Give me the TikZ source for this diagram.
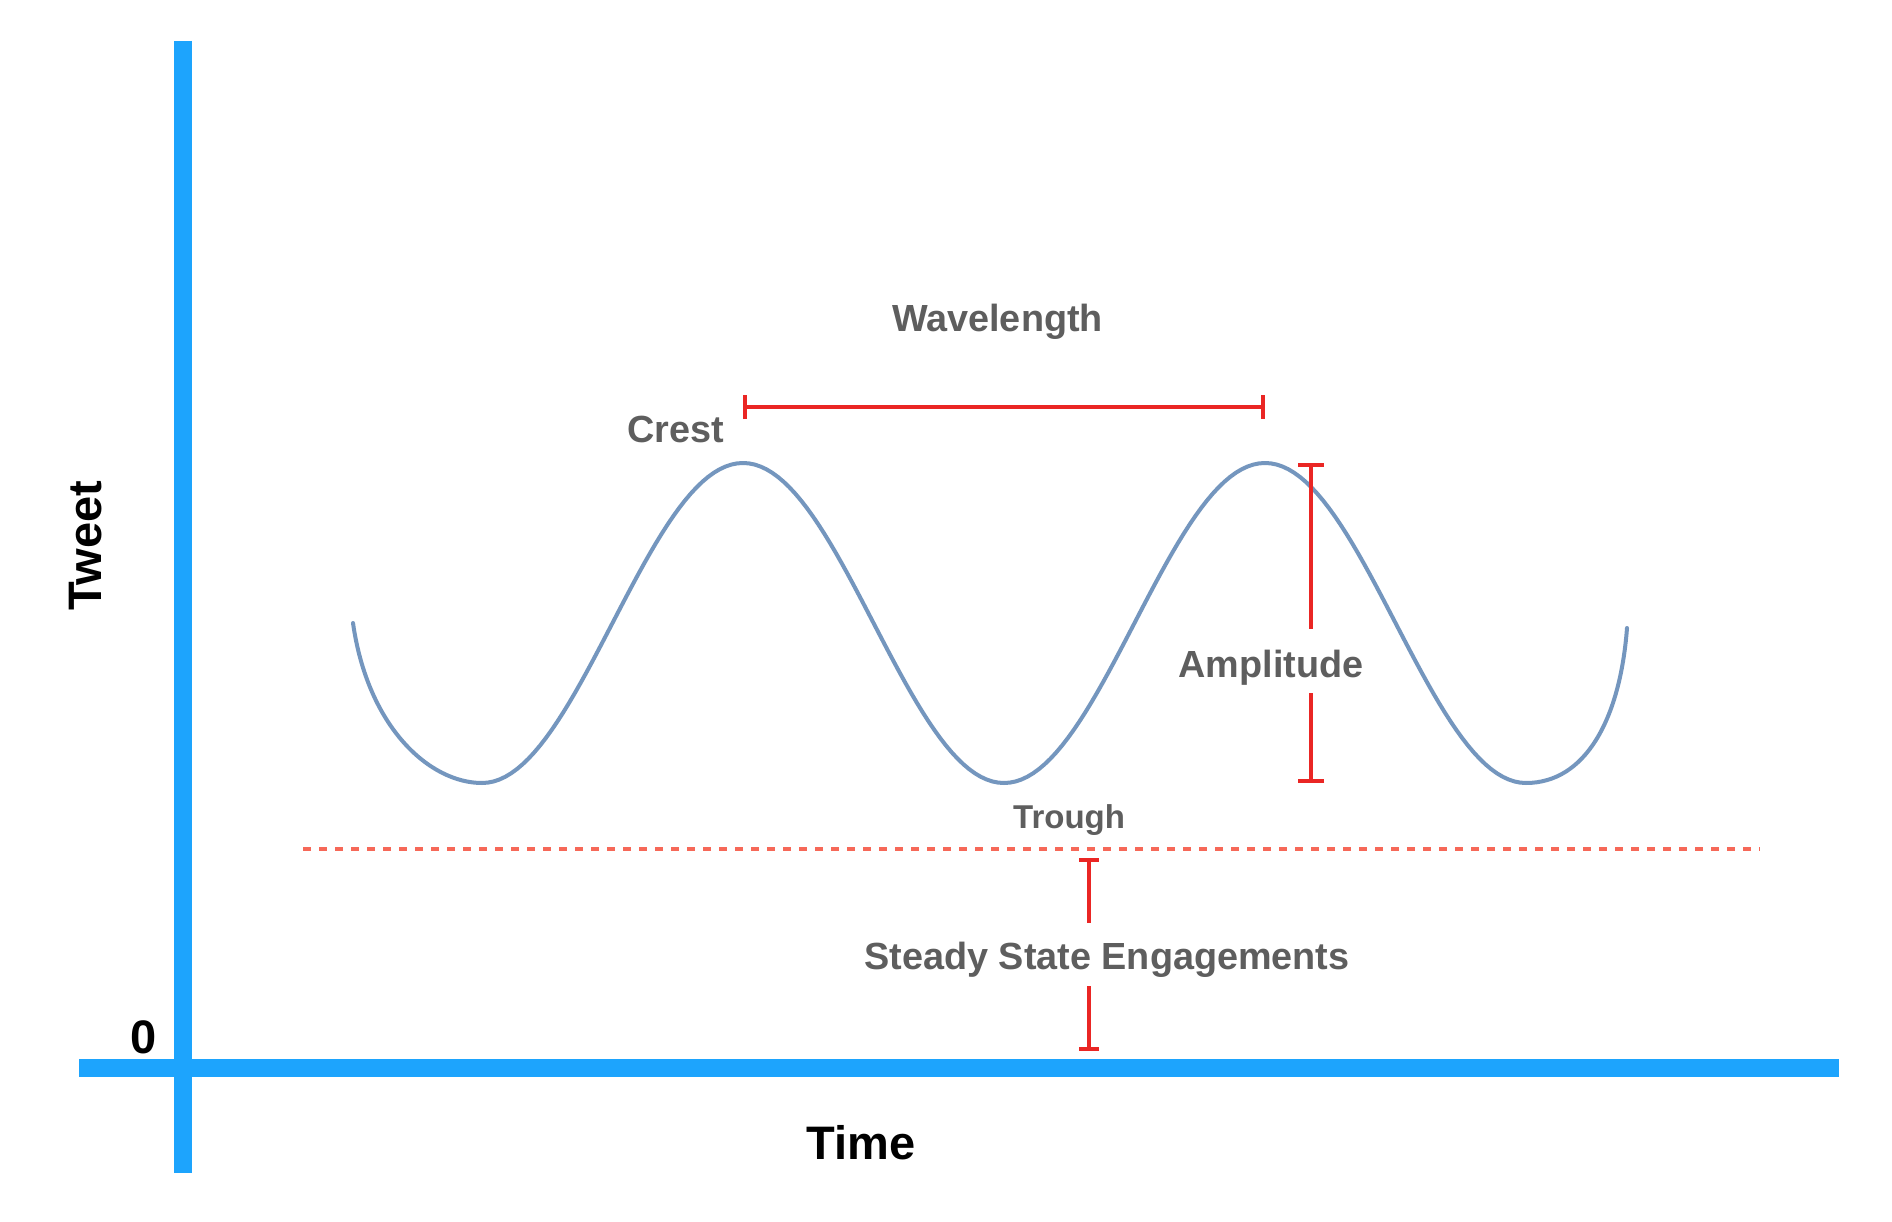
\documentclass[tikz,border=0pt]{standalone}
\usepackage{fontspec}
\setmainfont{Liberation Sans}
\usetikzlibrary{arrows.meta}
\definecolor{axisblue}{RGB}{29,164,253}
\definecolor{wavecol}{RGB}{116,150,190}
\definecolor{barred}{RGB}{234,38,36}
\definecolor{dashred}{RGB}{246,104,88}
\definecolor{labgray}{RGB}{94,94,94}
\tikzset{
  axisline/.style={line width=18pt, axisblue, line cap=butt},
  wavecurve/.style={line width=4pt, wavecol, line cap=round, line join=round},
  redbar/.style={line width=4.2pt, barred, line cap=butt},
  dashline/.style={line width=4pt, dashred, dash pattern=on 8pt off 8pt},
  graylab/.style={inner sep=0pt, text=labgray, font=\fontsize{37.8}{45}\selectfont\bfseries},
  blacklab/.style={inner sep=0pt, text=black, font=\fontsize{47}{56}\selectfont\bfseries}
}
\begin{document}
\begin{tikzpicture}[x=1pt,y=-1pt]
\useasboundingbox[fill=white] (0,0) rectangle (1892,1222);
% axes
\coordinate (yTop) at (183,41);
\coordinate (yBot) at (183,1173);
\coordinate (xL) at (79,1068);
\coordinate (xR) at (1839,1068);
\draw[axisline] (yTop) -- (yBot);
\draw[axisline] (xL) -- (xR);
% axis labels
\node[blacklab, anchor=base] (zero) at (143.5,1053) {0};
\node[blacklab, anchor=base] (time) at (861,1159) {Time};
\node[blacklab, rotate=90, anchor=center] (tweet) at (85.5,545.5) {Tweet};
% wave
\coordinate (wS) at (353,623);
\coordinate (wE) at (1627,628);
\draw[wavecurve] (wS) .. controls (368,728) and (430,783) .. (482,783)
  -- plot[domain=-180:540, samples=181] ({743+1.45*\x},{623-160*cos(\x)})
  .. controls (1585,783) and (1620,720) .. (wE);
% dashed steady-state line
\coordinate (dL) at (303,849);
\coordinate (dR) at (1760,849);
\draw[dashline] (dL) -- (dR);
% wavelength
\coordinate (wlL) at (743,407);
\coordinate (wlR) at (1265,407);
\draw[redbar, {Bar[width=24pt]}-{Bar[width=24pt]}] (wlL) -- (wlR);
\node[graylab, anchor=base] (wl) at (997.5,332) {Wavelength};
\node[graylab, anchor=base east] (crest) at (724,442) {Crest};
% amplitude
\coordinate (ampT) at (1311,463);
\coordinate (ampA) at (1311,629);
\coordinate (ampB) at (1311,693);
\coordinate (ampD) at (1311,783);
\draw[redbar, {Bar[width=26pt]}-] (ampT) -- (ampA);
\draw[redbar, -{Bar[width=26pt]}] (ampB) -- (ampD);
\node[graylab, anchor=base] (amp) at (1271,677) {Amplitude};
% trough
\node[graylab, anchor=base west, font=\fontsize{33}{40}\selectfont\bfseries] (trough) at (1013,828) {Trough};
% steady state
\coordinate (ssT) at (1089,858);
\coordinate (ssA) at (1089,923);
\coordinate (ssB) at (1089,986);
\coordinate (ssD) at (1089,1051);
\draw[redbar, {Bar[width=20pt]}-] (ssT) -- (ssA);
\draw[redbar, -{Bar[width=20pt]}] (ssB) -- (ssD);
\node[graylab, anchor=base] (ss) at (1107,969) {Steady State Engagements};
\end{tikzpicture}
\end{document}
